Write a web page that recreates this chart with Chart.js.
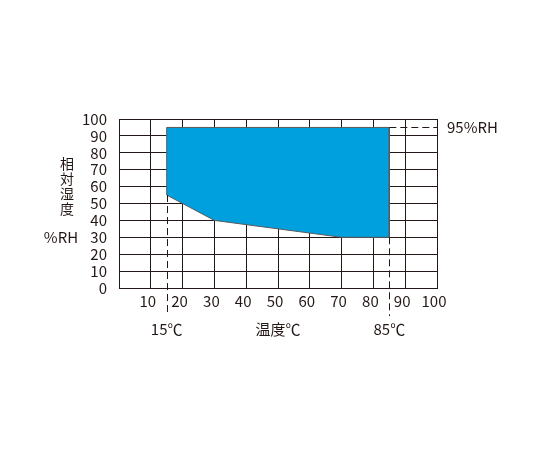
<!DOCTYPE html>
<html>
<head>
<meta charset="utf-8">
<script src="https://cdn.jsdelivr.net/npm/chart.js@4"></script>
<style>
  html, body { margin: 0; padding: 0; background: #fff; }
  #wrap { width: 540px; height: 450px; }
</style>
</head>
<body>
<div id="wrap"><canvas id="envChart" width="540" height="450"></canvas></div>
<script>
// operating range boundary (temperature °C, relative humidity %)
const boundaryTemp = [15, 15, 85, 85, 70, 30, 15];
const boundaryRH = [55, 95, 95, 30, 30, 40, 55];

const xTicks = [0, 10, 20, 30, 40, 50, 60, 70, 80, 90, 100];
const yTicks = [0, 10, 20, 30, 40, 50, 60, 70, 80, 90, 100];

const tempMarks = [15, 85];
const tempMarkLabels = ['15℃', '85℃'];
const rhMark = 95;
const rhMarkLabel = '95%RH';

const INK = '#231815';
const FONT = "'Noto Sans CJK JP', 'Noto Sans', sans-serif";

const points = boundaryTemp.map((t, i) => ({ x: t, y: boundaryRH[i] }));

// dashed guide lines + free text labels
const annotations = {
  id: 'annotations',
  afterDraw(chart) {
    const { ctx, chartArea, scales: { x, y } } = chart;
    ctx.save();
    ctx.strokeStyle = INK;
    ctx.lineWidth = 1;
    ctx.setLineDash([7, 4]);

    tempMarks.forEach((t) => {
      // lowest boundary value at this temperature
      const low = Math.min(...boundaryRH.filter((_, i) => boundaryTemp[i] === t));
      const px = Math.round(x.getPixelForValue(t)) + 0.5;
      ctx.beginPath();
      ctx.moveTo(px, y.getPixelForValue(low));
      ctx.lineTo(px, chartArea.bottom + 28);
      ctx.stroke();
    });

    const py = Math.round(y.getPixelForValue(rhMark)) + 0.5;
    ctx.beginPath();
    ctx.moveTo(x.getPixelForValue(Math.max(...tempMarks)), py);
    ctx.lineTo(chartArea.right, py);
    ctx.stroke();
    ctx.setLineDash([]);

    ctx.fillStyle = INK;
    ctx.font = '15px ' + FONT;
    ctx.textBaseline = 'middle';
    ctx.textAlign = 'center';
    tempMarks.forEach((t, i) => {
      ctx.fillText(tempMarkLabels[i], x.getPixelForValue(t), chartArea.bottom + 41);
    });
    ctx.fillText('温度℃', x.getPixelForValue(50), chartArea.bottom + 41);

    ctx.textAlign = 'left';
    ctx.fillText(rhMarkLabel, chartArea.right + 10, y.getPixelForValue(rhMark));

    // vertical y-axis title
    ctx.textAlign = 'center';
    ctx.font = '14px ' + FONT;
    ['相', '対', '湿', '度'].forEach((c, i) => {
      ctx.fillText(c, 67, 164 + i * 15);
    });
    ctx.font = '15px ' + FONT;
    ctx.fillText('%RH', 61, y.getPixelForValue(30));
    ctx.restore();
  }
};

new Chart(document.getElementById('envChart'), {
  type: 'line',
  data: {
    datasets: [{
      data: points,
      fill: 'shape',
      backgroundColor: '#00a0de',
      borderColor: '#5a5a5a',
      borderWidth: 1,
      pointRadius: 0,
      tension: 0
    }]
  },
  options: {
    responsive: false,
    animation: false,
    layout: { padding: { left: 0, top: 119, right: 103, bottom: 0 } },
    plugins: { legend: { display: false }, tooltip: { enabled: false } },
    scales: {
      x: {
        type: 'linear',
        min: 0,
        max: 100,
        z: 1,
        afterFit: (s) => { s.height = 162; },
        afterBuildTicks: (s) => { s.ticks = xTicks.map(v => ({ value: v })); },
        grid: { color: INK, lineWidth: 1, drawTicks: false },
        border: { color: INK, width: 1 },
        ticks: {
          autoSkip: false,
          maxRotation: 0,
          padding: 4,
          labelOffset: -3,
          color: INK,
          font: { family: FONT, size: 15 },
          callback: (v) => (v === 0 ? '' : v)
        }
      },
      y: {
        min: 0,
        max: 100,
        z: 1,
        afterFit: (s) => { s.width = 119; },
        afterBuildTicks: (s) => { s.ticks = yTicks.map(v => ({ value: v })); },
        grid: { color: INK, lineWidth: 1, drawTicks: false },
        border: { color: INK, width: 1 },
        ticks: {
          autoSkip: false,
          padding: 12,
          color: INK,
          font: { family: FONT, size: 15 }
        }
      }
    }
  },
  plugins: [annotations]
});
</script>
</body>
</html>
